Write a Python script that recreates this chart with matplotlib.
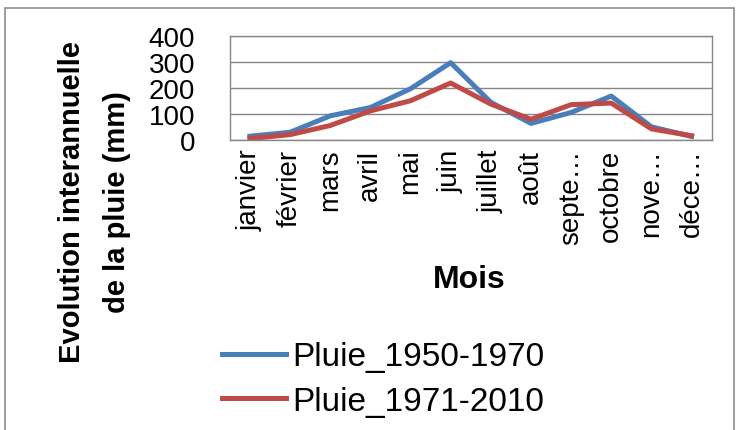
import matplotlib.pyplot as plt
from matplotlib.patches import Rectangle

mois = ['janvier', 'février', 'mars', 'avril', 'mai', 'juin', 'juillet',
        'août', 'septe…', 'octobre', 'nove…', 'déce…']
pluie_1950_1970 = [16, 31, 94, 126, 198, 298, 146, 65, 107, 170, 52, 15]
pluie_1971_2010 = [7, 22, 57, 113, 152, 220, 139, 81, 137, 143, 44, 18]
y_ticks = [0, 100, 200, 300, 400]

plt.rcParams['font.family'] = ['Liberation Sans', 'DejaVu Sans']

fig = plt.figure(figsize=(7.39, 4.31), dpi=100)
ax = fig.add_axes([0.311, 0.672, 0.652, 0.242])

x = list(range(len(mois)))
ax.plot(x, pluie_1950_1970, color='#4A7EBB', linewidth=3.6, label='Pluie_1950-1970',
        solid_joinstyle='round')
ax.plot(x, pluie_1971_2010, color='#BE4B48', linewidth=3.6, label='Pluie_1971-2010',
        solid_joinstyle='round')

ax.set_xlim(-0.5, len(mois) - 0.5)
ax.set_ylim(0, 400)
ax.set_yticks(y_ticks)
ax.set_yticklabels([str(v) for v in y_ticks], fontsize=20)
ax.set_xticks(x)
ax.set_xticklabels(mois, rotation=90, fontsize=20, va='top', ha='center')
ax.tick_params(axis='y', length=0, pad=25)
ax.tick_params(axis='x', length=0, pad=6)
ax.grid(axis='y', color='#868686', linewidth=1)
for s in ax.spines.values():
    s.set_color('#868686')
    s.set_linewidth(1)

fig.text(0.635, 0.350, 'Mois', fontsize=23, fontweight='bold', ha='center', va='center')
fig.text(0.128, 0.531, 'Evolution interannuelle\nde la pluie (mm)', fontsize=21,
         fontweight='bold', rotation=90, ha='center', va='center',
         multialignment='center', linespacing=1.8)

fig.legend(loc='upper left', bbox_to_anchor=(0.283, 0.237), frameon=False,
           fontsize=24, handlelength=1.9, handletextpad=0.2, labelspacing=0.4,
           borderaxespad=0)

fig.patches.append(Rectangle((0.007, -0.01), 0.986, 0.99, transform=fig.transFigure,
                             fill=False, edgecolor='#8c8c8c', linewidth=1.2))

fig.savefig('out.png', dpi=100)
plt.close(fig)
